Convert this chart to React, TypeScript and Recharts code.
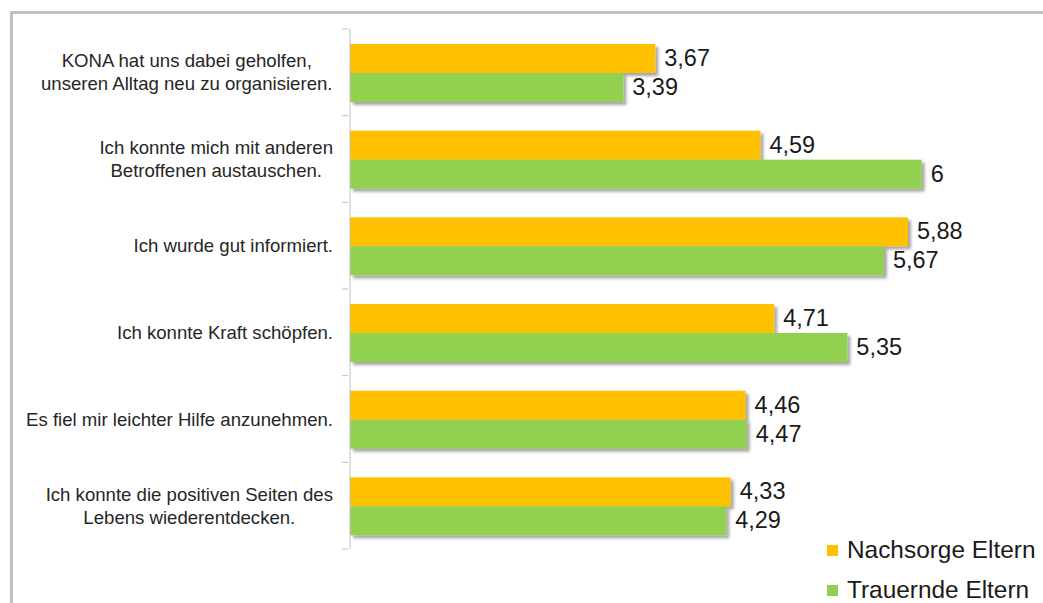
import { BarChart, Bar, XAxis, YAxis, Legend, LabelList } from 'recharts';

const categories = [
  'KONA hat uns dabei geholfen,\nunseren Alltag neu zu organisieren.',
  'Ich konnte mich mit anderen\nBetroffenen austauschen.',
  'Ich wurde gut informiert.',
  'Ich konnte Kraft schöpfen.',
  'Es fiel mir leichter Hilfe anzunehmen.',
  'Ich konnte die positiven Seiten des\nLebens wiederentdecken.',
];
const nachsorge = [3.67, 4.59, 5.88, 4.71, 4.46, 4.33];
const trauernde = [3.39, 6, 5.67, 5.35, 4.47, 4.29];

const SERIES = [
  { key: 'nachsorge', name: 'Nachsorge Eltern', color: '#FFC000' },
  { key: 'trauernde', name: 'Trauernde Eltern', color: '#92D050' },
];

const data = categories.map((name, i) => ({ name, nachsorge: nachsorge[i], trauernde: trauernde[i] }));

const FONT = "'Liberation Sans', Arial, sans-serif";
const CAT_SIZE = 18.6;
const AXIS_COLOR = '#bfbfbf';

let ctx: CanvasRenderingContext2D | null = null;
function textWidth(s: string, size: number) {
  if (!ctx) ctx = document.createElement('canvas').getContext('2d');
  if (!ctx) return s.length * size * 0.5;
  ctx.font = `${size}px ${FONT}`;
  return ctx.measureText(s).width;
}

// label block is right-aligned, lines centered inside it; tick marks sit on the band edges
function CategoryTick(props: any) {
  const { x, y, payload, index, visibleTicksCount } = props;
  const lines = String(payload.value).split('\n');
  const right = 333;
  const maxW = Math.max(...lines.map((l) => textWidth(l, CAT_SIZE)));
  const cx = right - maxW / 2;
  const lh = 23;
  const first = y + 6.5 - ((lines.length - 1) * lh) / 2;
  const half = payload.offset || 520 / categories.length / 2;
  const axisX = x;
  return (
    <g>
      <line x1={axisX - 6} x2={axisX} y1={y - half} y2={y - half} stroke={AXIS_COLOR} />
      {index === visibleTicksCount - 1 && (
        <line x1={axisX - 6} x2={axisX} y1={y + half} y2={y + half} stroke={AXIS_COLOR} />
      )}
      <text x={cx} y={first} textAnchor="middle" fontSize={CAT_SIZE} fontFamily={FONT} fill="#262626">
        {lines.map((l, i) => (
          <tspan key={i} x={cx} y={first + i * lh}>{l}</tspan>
        ))}
      </text>
    </g>
  );
}

function ShadowBar(props: any) {
  const { x, y, width, height, fill } = props;
  if (!width || width <= 0) return null;
  return <rect x={x} y={y + 1} width={width} height={height} fill={fill} filter="url(#barShadow)" />;
}

function LegendBox() {
  return (
    <div style={{ fontFamily: FONT, fontSize: 24.4, color: '#1a1a1a' }}>
      {SERIES.map((s) => (
        <div key={s.key} style={{ display: 'flex', alignItems: 'center', height: 40 }}>
          <span style={{ display: 'inline-block', width: 11, height: 11, background: s.color, marginRight: 9 }} />
          <span>{s.name}</span>
        </div>
      ))}
    </div>
  );
}

const fmt = (v: any) => String(v).replace('.', ',');

export default function App() {
  return (
    <div style={{ position: 'absolute', left: 0, top: 0, width: 1043, height: 603, overflow: 'hidden', background: '#fff' }}>
      <div style={{ position: 'absolute', left: 10, top: 11, width: 1100, height: 700, border: '3px solid #c0c0c0' }} />
      <BarChart
        width={1043}
        height={603}
        data={data}
        layout="vertical"
        margin={{ top: 29, right: 7, bottom: 54, left: 0 }}
        barCategoryGap="16.5%"
        barGap={0}
      >
        <defs>
          <filter id="barShadow" x="-5%" y="-20%" width="115%" height="160%">
            <feDropShadow dx={3} dy={3} stdDeviation={1.5} floodColor="#000" floodOpacity={0.35} />
          </filter>
        </defs>
        <XAxis type="number" domain={[1, 7]} hide />
        <YAxis
          type="category"
          dataKey="name"
          width={350}
          axisLine={{ stroke: AXIS_COLOR }}
          tickLine={false}
          tickSize={0}
          tick={<CategoryTick />}
          interval={0}
        />
        <Legend
          layout="vertical"
          align="center"
          verticalAlign="middle"
          content={<LegendBox />}
          wrapperStyle={{ left: 827, top: 530, width: 'auto' }}
        />
        {SERIES.map((s) => (
          <Bar
            key={s.key}
            dataKey={s.key}
            name={s.name}
            fill={s.color}
            barSize={29}
            shape={<ShadowBar />}
            isAnimationActive={false}
          >
            <LabelList
              dataKey={s.key}
              position="right"
              offset={9}
              formatter={fmt}
              style={{ fontSize: 23.5, fontFamily: FONT, fill: '#1a1a1a' }}
            />
          </Bar>
        ))}
      </BarChart>
    </div>
  );
}
